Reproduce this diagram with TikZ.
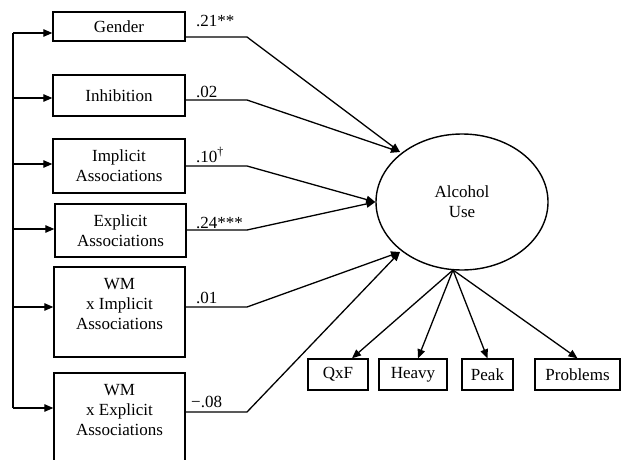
\documentclass[tikz,border=0pt]{standalone}
\usepackage{fontspec}
\setmainfont{Liberation Serif}
\usetikzlibrary{arrows.meta,shapes.geometric}
\begin{document}
\begin{tikzpicture}[x=1pt,y=-1pt,
  every node/.style={font=\fontsize{17}{20}\selectfont},
  box/.style={draw,line width=1.4pt,inner sep=0pt,align=center},
  txt/.style={inner sep=0pt,align=center},
  conn/.style={line width=1.3pt},
  arr/.style={conn,-{Triangle[length=9pt,width=7.5pt]}},
  lbl/.style={anchor=base west,inner sep=0pt}]
\clip (0,0) rectangle (621,460);
% predictor boxes
\node[box,minimum width=132pt,minimum height=29pt] (gen) at (119,26.5) {Gender};
\node[box,minimum width=132pt,minimum height=41pt] (inh) at (119,95.5) {Inhibition};
\node[box,minimum width=132pt,minimum height=54pt] (imp) at (119,166) {Implicit\\Associations};
\node[box,minimum width=131pt,minimum height=53pt] (exp) at (120.5,230.5) {Explicit\\Associations};
\node[box,minimum width=131pt,minimum height=90pt] (wmi) at (119.5,312) {};
\node[txt] (wmit) at (119.5,304) {WM\\x Implicit\\Associations};
\node[box,minimum width=131pt,minimum height=90pt] (wme) at (119.5,418) {};
\node[txt] (wmet) at (119.5,410) {WM\\x Explicit\\Associations};
% latent
\node[draw,ellipse,line width=1.4pt,minimum width=172pt,minimum height=136pt,inner sep=0pt,align=center] (al) at (462,202) {Alcohol\\Use};
% indicators
\node[box,minimum width=60pt,minimum height=31pt] (qxf) at (338,374.5) {QxF};
\node[box,minimum width=68pt,minimum height=31pt] (hv) at (413,374.5) {Heavy};
\node[box,minimum width=51pt,minimum height=31pt] (pk) at (487.5,374.5) {Peak};
\node[box,minimum width=85pt,minimum height=31pt] (pr) at (577.5,374.5) {Problems};
% left bus
\coordinate (b1) at (13,33);
\coordinate (b2) at (13,98);
\coordinate (b3) at (13,164);
\coordinate (b4) at (13,229);
\coordinate (b5) at (13,307);
\coordinate (b6) at (13,408);
\draw[conn] (b1) -- (b6);
\draw[arr] (b1) -- (b1 -| gen.west);
\draw[arr] (b2) -- (b2 -| inh.west);
\draw[arr] (b3) -- (b3 -| imp.west);
\draw[arr] (b4) -- (b4 -| exp.west);
\draw[arr] (b5) -- (b5 -| wmi.west);
\draw[arr] (b6) -- (b6 -| wme.west);
% paths to latent
\coordinate (r1) at (247,37);
\coordinate (r2) at (247,100);
\coordinate (r3) at (247,166);
\coordinate (r4) at (247,230);
\coordinate (r5) at (247,307);
\coordinate (r6) at (247,412);
\coordinate (ta) at (400,152);
\coordinate (tc) at (400,252);
\draw[arr] (r1 -| gen.east) -- (r1) -- (ta);
\draw[arr] (r2 -| inh.east) -- (r2) -- (ta);
\draw[arr] (r3 -| imp.east) -- (r3) -- (al.west);
\draw[arr] (r4 -| exp.east) -- (r4) -- (al.west);
\draw[arr] (r5 -| wmi.east) -- (r5) -- (tc);
\draw[arr] (r6 -| wme.east) -- (r6) -- (tc);
% labels
\node[lbl] (l1) at (196,27) {.21**};
\node[lbl] (l2) at (196,97) {.02};
\node[lbl] (l3) at (196,162) {.10\textsuperscript{†}};
\node[lbl] (l4) at (196,228) {.24***};
\node[lbl] (l5) at (196,303) {.01};
\node[lbl] (l6) at (191,407) {−.08};
% indicators arrows
\coordinate (src) at (453,270);
\draw[arr] (src) -- ([xshift=14pt]qxf.north);
\draw[arr] (src) -- ([xshift=5pt]hv.north);
\draw[arr] (src) -- (pk.north);
\draw[arr] (src) -- (pr.north);
\end{tikzpicture}
\end{document}
